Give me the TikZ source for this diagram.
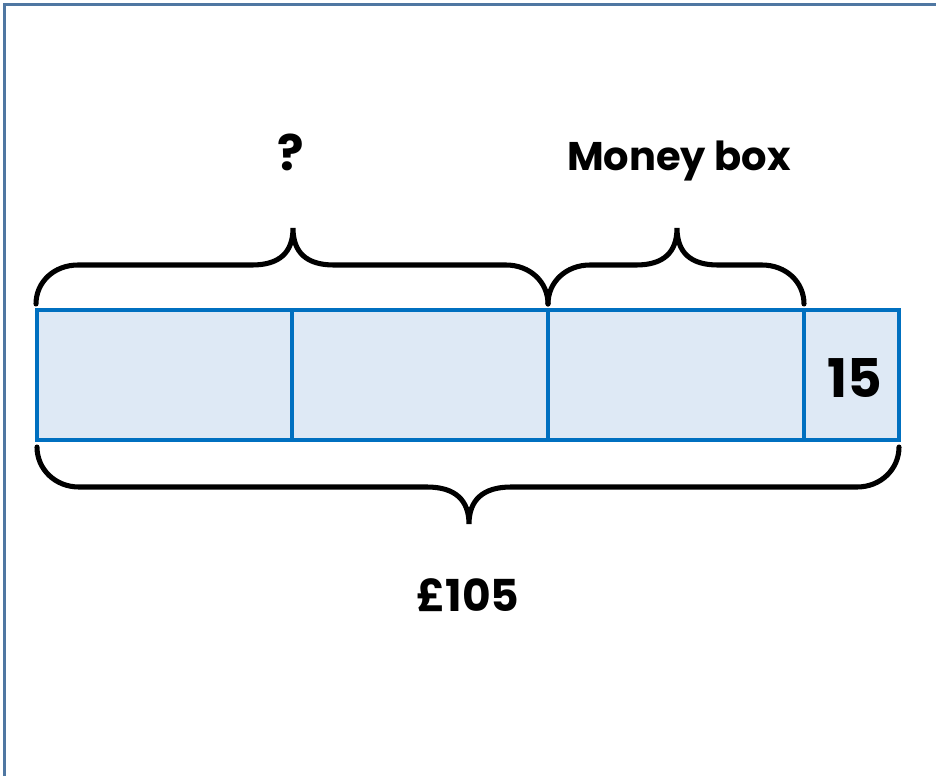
\documentclass[tikz,border=0pt]{standalone}
\usepackage{fontspec}
\setmainfont{Poppins}
\usetikzlibrary{positioning}

\definecolor{barblue}{HTML}{0070C0}
\definecolor{barfill}{HTML}{DEE9F5}
\definecolor{framegray}{HTML}{4F77A2}

\tikzset{
    cell/.style={draw=barblue, fill=barfill, line width=3pt},
    curly/.style={line width=3.8pt, line cap=round},
    lbl/.style={font=\bfseries\fontsize{33}{36}\selectfont, inner sep=0pt}
}

\begin{document}
\begin{tikzpicture}[x=0.75pt, y=-0.75pt]
    \useasboundingbox (0,0) rectangle (936,776);
    \fill[white] (0,0) rectangle (936,776);

    % frame (only top and left are visible)
    \draw [framegray, line width=2.4pt] (4.5,776) -- (4.5,4.5) -- (936,4.5);

    % bar model
    \coordinate (b0) at (37,310);
    \coordinate (b1) at (292,310);
    \coordinate (b2) at (548,310);
    \coordinate (b3) at (804,310);
    \coordinate (b4) at (899,310);
    \draw [cell] (b0) rectangle (292,440);
    \draw [cell] (b1) rectangle (548,440);
    \draw [cell] (b2) rectangle (804,440);
    \draw [cell] (b3) rectangle (899,440);
    \node [lbl, font=\bfseries\fontsize{40}{44}\selectfont] (fifteen) at (855,378) {15};

    % top braces
    \draw [curly] (36,304) .. controls (36,282) and (54,265) .. (78,265) -- (252,265)
        .. controls (280,265) and (293,252) .. (293,228)
        .. controls (293,252) and (306,265) .. (334,265) -- (506,265)
        .. controls (530,265) and (548,282) .. (548,304);
    \draw [curly] (548,304) .. controls (548,282) and (566,265) .. (590,265) -- (636,265)
        .. controls (664,265) and (677,252) .. (677,228)
        .. controls (677,252) and (690,265) .. (718,265) -- (762,265)
        .. controls (786,265) and (804,282) .. (804,304);

    % bottom brace
    \draw [curly] (37,447) .. controls (37,469) and (55,487) .. (79,487) -- (427,487)
        .. controls (455,487) and (469,500) .. (469,524)
        .. controls (469,500) and (483,487) .. (511,487) -- (857,487)
        .. controls (881,487) and (899,469) .. (899,447);

    \node [lbl, font=\bfseries\fontsize{37}{40}\selectfont] (question) at (291,152) {?};
    \node [lbl, font=\bfseries\fontsize{30}{34}\selectfont] (moneybox) at (679,161) {Money box};
    \node [lbl] (total) at (468,595) {£105};
\end{tikzpicture}
\end{document}
